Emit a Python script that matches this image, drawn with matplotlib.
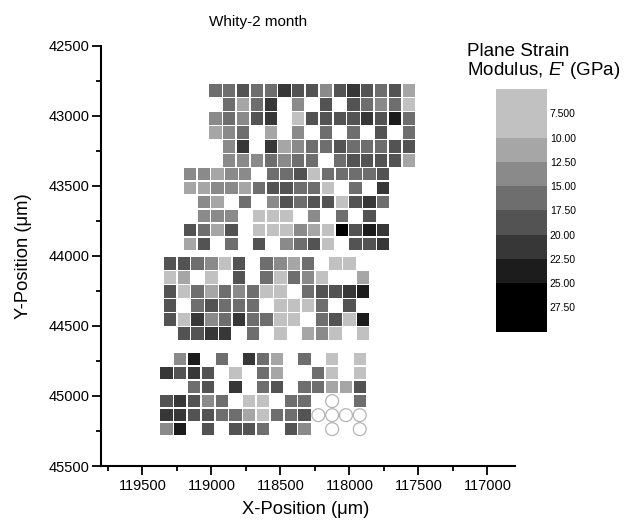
import numpy as np
import matplotlib
matplotlib.use("Agg")
import matplotlib.pyplot as plt
from matplotlib.colors import ListedColormap, BoundaryNorm
from matplotlib.cm import ScalarMappable
from matplotlib.ticker import MultipleLocator, FuncFormatter

plt.rcParams["font.family"] = ["Liberation Sans", "DejaVu Sans"]
plt.rcParams["mathtext.fontset"] = "custom"
plt.rcParams["mathtext.rm"] = "Liberation Sans"
plt.rcParams["mathtext.it"] = "Liberation Sans:italic"

N = np.nan      # no indent at this site
NF = 0.0        # indent made, no modulus fitted (open circle)

# Plane strain modulus E' (GPa) on four indentation grids, rows top to bottom,
# columns from high X to low X.
grid_a = [
    [16.2, 16.2, 18.8, 16.2, 16.2, 21.2, 18.8, 18.8, 13.8, 18.8, 21.2, 18.8, 16.2, 18.8, 11.2],
    [N, 16.2, 11.2, 16.2, 21.2, N, 13.8, N, 18.8, N, 18.8, 16.2, 13.8, 16.2, 7.5],
    [13.8, 16.2, 13.8, 18.8, 21.2, N, 7.5, 18.8, 18.8, 18.8, 18.8, 21.2, 18.8, 23.8, 16.2],
    [11.2, 13.8, 16.2, N, 11.2, N, 13.8, N, 16.2, N, 16.2, N, 18.8, N, 16.2],
    [N, 13.8, 21.2, N, 21.2, 11.2, 13.8, 16.2, 16.2, 18.8, 16.2, 16.2, 16.2, 18.8, 18.8],
    [N, 13.8, 13.8, 13.8, 16.2, 13.8, 16.2, 16.2, N, 16.2, 18.8, 18.8, 18.8, 18.8, 11.2],
]
grid_b = [
    [13.8, 13.8, 11.2, 13.8, 13.8, N, 16.2, 16.2, 18.8, 7.5, 16.2, 16.2, 16.2, 16.2, 18.8],
    [11.2, 11.2, 13.8, 13.8, 11.2, 16.2, 18.8, 18.8, 16.2, 16.2, 7.5, N, 16.2, N, 21.2],
    [N, 13.8, 11.2, N, 16.2, N, 13.8, 18.8, 16.2, 18.8, 18.8, 7.5, 18.8, 21.2, 16.2],
    [N, 13.8, 13.8, 13.8, N, 7.5, 7.5, 7.5, N, 13.8, N, 16.2, N, 18.8, N],
    [18.8, 16.2, 11.2, 18.8, N, 7.5, 7.5, 7.5, 13.8, 11.2, 7.5, 27.5, 18.8, 23.8, 21.2],
    [11.2, 18.8, N, 16.2, N, 18.8, N, 13.8, 16.2, 18.8, 7.5, N, 18.8, 18.8, 21.2],
]
grid_c = [
    [18.8, 18.8, 16.2, 13.8, 7.5, 18.8, N, 16.2, 13.8, 11.2, 16.2, N, 7.5, 7.5, N],
    [7.5, 11.2, N, 7.5, N, 18.8, N, 16.2, 7.5, 16.2, 13.8, 7.5, N, N, 11.2],
    [18.8, 7.5, 16.2, 11.2, 16.2, 13.8, 16.2, 7.5, 7.5, N, 16.2, 18.8, 18.8, 21.2, 23.8],
    [18.8, N, 16.2, 18.8, 16.2, 16.2, 16.2, N, 7.5, 7.5, 7.5, 16.2, N, 18.8, N],
    [18.8, 7.5, 21.2, 13.8, 16.2, 21.2, 16.2, 16.2, 7.5, 7.5, N, 16.2, 18.8, 7.5, 23.8],
    [N, 18.8, 18.8, 21.2, 21.2, N, 16.2, N, 7.5, N, 11.2, 13.8, 7.5, N, 7.5],
]
grid_d = [
    [N, 13.8, 23.8, N, 16.2, N, 21.2, 16.2, 11.2, N, 16.2, N, 7.5, N, 7.5],
    [21.2, 18.8, 21.2, 18.8, N, 7.5, N, 16.2, 11.2, N, N, 16.2, 7.5, N, 7.5],
    [N, N, 16.2, 18.8, N, 21.2, N, 16.2, 18.8, N, 16.2, 16.2, 11.2, 11.2, 18.8],
    [18.8, 21.2, 18.8, 13.8, 16.2, N, 7.5, 7.5, N, 16.2, 16.2, N, NF, N, 16.2],
    [21.2, 21.2, 18.8, 18.8, 16.2, 16.2, 11.2, 7.5, 16.2, 16.2, 18.8, NF, NF, NF, NF],
    [13.8, 23.8, N, 18.8, N, 18.8, 18.8, 16.2, N, 18.8, 13.8, N, NF, N, NF],
]

# Grid origins (first column X, first row Y) in micrometres; 100 um pitch.
grid_x0 = [118970, 119155, 119300, 119325]
grid_y0 = [42820, 43415, 44055, 44737]
pitch = 100.0

levels = [5, 10, 12.5, 15, 17.5, 20, 22.5, 25, 30]
grays = ["#c1c1c1", "#a6a6a6", "#8a8a8a", "#6e6e6e",
         "#535353", "#373737", "#1c1c1c", "#000000"]
cbar_ticks = [7.5, 10, 12.5, 15, 17.5, 20, 22.5, 25, 27.5]
cbar_labels = ["7.500", "10.00", "12.50", "15.00", "17.50",
               "20.00", "22.50", "25.00", "27.50"]

cmap = ListedColormap(grays)
norm = BoundaryNorm(levels, cmap.N)

W, H = 626, 529
fig = plt.figure(figsize=(W / 100, H / 100), dpi=100)
ax = fig.add_axes([101 / W, 1 - 466 / H, 414 / W, 420.3 / H])
ax.patch.set_alpha(0)

for grid, x0, y0 in zip([grid_a, grid_b, grid_c, grid_d], grid_x0, grid_y0):
    vals = np.array(grid, dtype=float)
    nr, nc = vals.shape
    xs = x0 - pitch * np.arange(nc)
    ys = y0 + pitch * np.arange(nr)
    X, Y = np.meshgrid(xs, ys)
    filled = np.isfinite(vals) & (vals > 0)
    ax.scatter(X[filled], Y[filled], c=vals[filled], cmap=cmap, norm=norm,
               marker="s", s=78, linewidths=0)
    empty = vals == 0
    ax.scatter(X[empty], Y[empty], marker="o", s=86, facecolors="none",
               edgecolors="#b4b4b4", linewidths=0.9)

ax.set_xlim(119800, 116800)
ax.set_ylim(45500, 42500)
ax.set_xticks(np.arange(119500, 116999, -500))
ax.set_yticks(np.arange(42500, 45501, 500))
ax.xaxis.set_minor_locator(MultipleLocator(250))
ax.yaxis.set_minor_locator(MultipleLocator(250))
fmt = FuncFormatter(lambda v, p: f"{v:.0f}")
ax.xaxis.set_major_formatter(fmt)
ax.yaxis.set_major_formatter(fmt)
for s in ("top", "right"):
    ax.spines[s].set_visible(False)
for s in ("left", "bottom"):
    ax.spines[s].set_linewidth(1.5)
ax.tick_params(which="major", direction="out", length=6.5, width=1.3,
               labelsize=10.5)
ax.tick_params(which="minor", direction="out", length=3.5, width=1.3)
ax.tick_params(axis="y", which="major", pad=1.5)
ax.tick_params(axis="x", which="major", pad=3)

fig.text(24 / W, 1 - 256 / H, "Y-Position (\u03bcm)", rotation=90,
         ha="center", va="center", fontsize=13.2)
fig.text(306 / W, 1 - 510 / H, "X-Position (\u03bcm)",
         ha="center", va="center", fontsize=13.2)
fig.text(258 / W, 1 - 22 / H, "Whity-2 month",
         ha="center", va="center", fontsize=11)

# Colour scale
cax = fig.add_axes([496 / W, 1 - 331.7 / H, 51 / W, 242.7 / H])
cb = fig.colorbar(ScalarMappable(norm=norm, cmap=cmap), cax=cax,
                  spacing="proportional", ticks=cbar_ticks)
cb.outline.set_visible(False)
cax.invert_yaxis()
cax.set_yticklabels(cbar_labels)
cax.tick_params(length=0, labelsize=7.5, pad=2)
cax.minorticks_off()

fig.text(467 / W, 1 - 56 / H, "Plane Strain", ha="left", va="baseline",
         fontsize=13.5)
fig.text(467 / W, 1 - 75 / H, r"Modulus, $\mathit{E}$' (GPa)", ha="left",
         va="baseline", fontsize=13.5)

fig.savefig("out.png", dpi=100)
